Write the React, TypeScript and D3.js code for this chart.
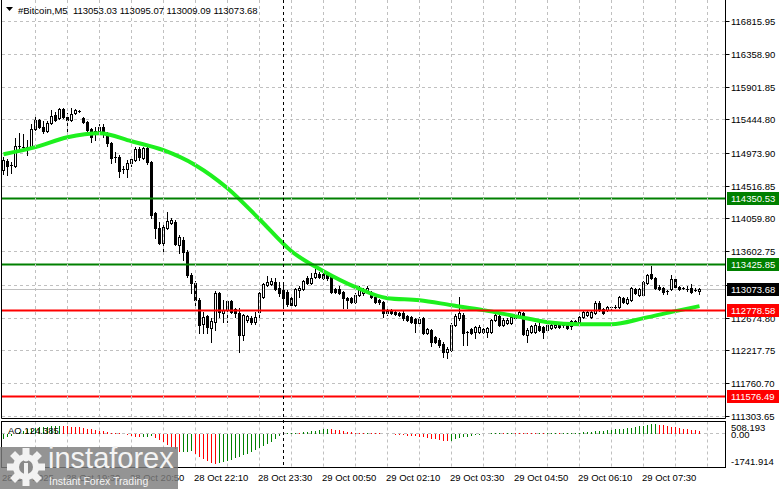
import { useEffect, useRef } from 'react'
import * as d3 from 'd3'

// 5-minute bars, 28 Oct 18:10 .. 29 Oct 08:40
const OPEN = [
  114735, 114860, 114804, 114790, 115069, 115055, 115055, 115041, 115305, 115431,
  115333, 115278, 115389, 115500, 115459, 115584, 115472, 115431, 115528, 115556,
  115459, 115403, 115305, 115236, 115278, 115333, 115236, 115111, 114916, 114916,
  114749, 114749, 114832, 114874, 115027, 114902, 115041, 114846, 114134, 113925,
  113715, 113925, 113994, 114008, 113687, 113757, 113590, 113269, 113157, 112920,
  112585, 112697, 112530, 112613, 113018, 112739, 112781, 112906, 112795, 112739,
  112432, 112641, 112669, 112613, 112753, 112962, 113130, 113144, 113171, 113088,
  113060, 113032, 112948, 112850, 113060, 113074, 113227, 113157, 113241, 113283,
  113283, 113269, 113241, 113074, 113074, 113032, 112948, 112948, 112892, 112990,
  113018, 113032, 113032, 112962, 112920, 112892, 112781, 112781, 112753, 112739,
  112739, 112697, 112683, 112655, 112599, 112669, 112460, 112502, 112404, 112362,
  112306, 112195, 112223, 112571, 112669, 112711, 112474, 112516, 112474, 112474,
  112516, 112474, 112474, 112641, 112697, 112571, 112599, 112599, 112669, 112697,
  112739, 112432, 112474, 112474, 112558, 112544, 112502, 112530, 112544, 112571,
  112571, 112571, 112558, 112627, 112613, 112683, 112711, 112683, 112739, 112878,
  112795, 112781, 112823, 112823, 112823, 112948, 112878, 112920, 113074, 112990,
  112990, 113157, 113283, 113227, 113102, 113088, 113046, 113074, 113213, 113102,
  113088, 113074, 113088, 113060, 113053.03,
]
const HIGH = [
  114916, 114888, 114846, 115180, 115250, 115236, 115152, 115375, 115514, 115445,
  115417, 115417, 115570, 115542, 115598, 115598, 115528, 115598, 115584, 115570,
  115472, 115417, 115319, 115333, 115375, 115375, 115264, 115125, 114985, 114943,
  114790, 114874, 114930, 115055, 115055, 115055, 115055, 114860, 114148, 114008,
  113980, 114148, 114064, 114036, 113827, 113799, 113618, 113297, 113185, 112948,
  112753, 112711, 112669, 113046, 113032, 112920, 112920, 112920, 112809, 112809,
  112725, 112711, 112697, 112753, 113032, 113157, 113255, 113227, 113227, 113171,
  113130, 113060, 112976, 113088, 113116, 113199, 113255, 113297, 113353, 113311,
  113297, 113283, 113255, 113088, 113116, 113046, 112962, 112962, 113018, 113116,
  113088, 113116, 113046, 112976, 112934, 112906, 112795, 112795, 112767, 112753,
  112767, 112711, 112697, 112669, 112683, 112683, 112530, 112516, 112418, 112390,
  112334, 112265, 112599, 112725, 112962, 112739, 112488, 112530, 112558, 112571,
  112530, 112544, 112655, 112739, 112711, 112669, 112669, 112697, 112739, 112781,
  112753, 112530, 112571, 112599, 112627, 112558, 112585, 112585, 112585, 112585,
  112585, 112585, 112641, 112641, 112697, 112767, 112767, 112767, 112906, 112906,
  112809, 112837, 112837, 112850, 112976, 112962, 112962, 113102, 113088, 113088,
  113185, 113283, 113395, 113241, 113130, 113102, 113060, 113269, 113227, 113116,
  113102, 113116, 113144, 113088, 113095.07,
]
const LOW = [
  114679, 114665, 114693, 114776, 115027, 115027, 114943, 115027, 115292, 115319,
  115250, 115264, 115375, 115417, 115445, 115459, 115236, 115417, 115514, 115542,
  115389, 115264, 115125, 115152, 115264, 115194, 115069, 114832, 114846, 114637,
  114693, 114637, 114790, 114860, 114874, 114888, 114818, 114064, 113785, 113701,
  113576, 113911, 113980, 113687, 113576, 113478, 113241, 113018, 112850, 112460,
  112460, 112460, 112334, 112502, 112683, 112613, 112613, 112739, 112683, 112195,
  112362, 112613, 112585, 112585, 112669, 112948, 113116, 113130, 113060, 112976,
  112850, 112837, 112837, 112837, 112962, 113060, 113144, 113144, 113227, 113227,
  113213, 113199, 113018, 113018, 113004, 112809, 112809, 112878, 112878, 112976,
  112990, 113018, 112948, 112878, 112864, 112683, 112711, 112725, 112711, 112697,
  112641, 112627, 112599, 112474, 112585, 112446, 112446, 112278, 112320, 112265,
  112125, 112111, 112209, 112558, 112641, 112292, 112292, 112446, 112390, 112460,
  112460, 112404, 112460, 112627, 112558, 112558, 112585, 112585, 112655, 112683,
  112432, 112334, 112460, 112460, 112488, 112390, 112488, 112516, 112530, 112530,
  112544, 112516, 112516, 112585, 112599, 112669, 112697, 112669, 112725, 112767,
  112725, 112767, 112795, 112809, 112809, 112878, 112864, 112906, 113004, 112976,
  112976, 113144, 113213, 113074, 113060, 113004, 113004, 113060, 113088, 113060,
  113074, 113046, 113018, 113046, 113009.09,
]
const CLOSE = [
  114874, 114790, 114797, 115069, 115055, 115048, 115041, 115305, 115431, 115333,
  115278, 115389, 115486, 115431, 115584, 115472, 115431, 115514, 115570, 115549,
  115403, 115292, 115194, 115278, 115333, 115250, 115111, 114902, 114902, 114721,
  114735, 114832, 114888, 115027, 114916, 115041, 114846, 114106, 113925, 113715,
  113939, 114022, 114036, 113701, 113799, 113590, 113269, 113157, 112920, 112571,
  112683, 112544, 112627, 113018, 112753, 112781, 112906, 112753, 112739, 112432,
  112711, 112697, 112613, 112683, 113018, 113144, 113171, 113185, 113074, 113018,
  112948, 112864, 112850, 113074, 113088, 113185, 113157, 113227, 113297, 113241,
  113227, 113227, 113032, 113032, 113018, 112948, 112927, 112892, 112990, 113088,
  113074, 113088, 112962, 112892, 112892, 112739, 112739, 112739, 112732, 112711,
  112669, 112641, 112613, 112599, 112655, 112460, 112516, 112334, 112334, 112292,
  112195, 112237, 112571, 112697, 112739, 112460, 112460, 112460, 112544, 112544,
  112474, 112530, 112641, 112711, 112571, 112641, 112641, 112683, 112711, 112753,
  112446, 112502, 112558, 112571, 112502, 112474, 112571, 112571, 112571, 112544,
  112564, 112530, 112627, 112599, 112683, 112753, 112753, 112753, 112878, 112781,
  112739, 112823, 112816, 112830, 112962, 112892, 112934, 113088, 113018, 113074,
  113171, 113269, 113227, 113088, 113074, 113032, 113039, 113213, 113102, 113074,
  113081, 113067, 113032, 113053, 113073.68,
]

// moving average, read at every 8th bar
const MA_BARS = [0, 8, 16, 24, 32, 40, 48, 56, 64, 72, 80, 88, 96, 104, 112, 120, 128, 136, 144, 152, 160, 168, 174]
const MA_VALUES = [
  114957, 115055, 115194, 115250, 115138, 115013, 114804, 114482, 114050, 113603, 113324, 113102,
  112948, 112920, 112850, 112781, 112697, 112613, 112585, 112585, 112669, 112767, 112837,
]

// Awesome Oscillator
const AO = [
  -330, -240, -140, -40, 60, 140, 200, 250, 300, 330,
  350, 365, 380, 390, 400, 392, 380, 365, 345, 320,
  290, 250, 210, 170, 130, 95, 60, 30, 15, -20,
  -70, -120, -170, -210, -240, -225, -205, -190, -280, -400,
  -530, -650, -760, -900, -1080, -1060, -1040, -1020, -1180, -1350,
  -1480, -1590, -1680, -1741.914, -1700, -1640, -1580, -1500, -1420, -1340,
  -1260, -1170, -1070, -970, -860, -740, -610, -480, -340, -180,
  -30, -15, 10, 20, 15, 40, 70, 100, 140, 180,
  210, 225, 205, 180, 150, 115, 80, 45, 20, 10,
  5, 12, 3, -5, -15, -30, -60, -75, -90, -110,
  -130, -150, -170, -190, -210, -240, -270, -310, -350, -400,
  -450, -460, -420, -360, -300, -250, -200, -155, -115, -85,
  -55, -35, -20, 10, 15, 12, 18, 25, 20, 15,
  8, -5, -10, -12, -8, -15, -10, 5, 8, 5,
  10, 15, 20, 25, 30, 35, 55, 75, 100, 120,
  140, 160, 180, 200, 225, 250, 280, 310, 345, 380,
  420, 460, 490, 508.193, 480, 440, 400, 360, 320, 280,
  240, 200, 170, 145, 124.385,
]

const PRICE_TICKS = [
  '116815.95', '116358.90', '115901.85', '115444.80', '114973.90', '114516.85', '114059.80',
  '113602.75', '113131.85', '112674.80', '112217.75', '111760.70', '111303.65',
]
const TIME_TICK_BARS = [0, 16, 32, 48, 64, 80, 96, 112, 128, 144, 160]
const TIME_TICK_LABELS = [
  '28 Oct 2025', '28 Oct 19:30', '28 Oct 20:50', '28 Oct 22:10', '28 Oct 23:30', '29 Oct 00:50',
  '29 Oct 02:10', '29 Oct 03:30', '29 Oct 04:50', '29 Oct 06:10', '29 Oct 07:30',
]
const LEVELS = [114350.53, 113425.85, 112778.58, 111576.49]
const LEVEL_KINDS = ['resist', 'resist', 'support', 'support']
const DAY_BREAK_BAR = 70
const AO_MAX = 508.193
const AO_MIN = -1741.914
const HEADER = '#Bitcoin,M5  113053.03 113095.07 113009.09 113073.68'

export default function App() {
  const svgRef = useRef<SVGSVGElement>(null)

  useEffect(() => {
    if (!svgRef.current) return
    const svg = d3.select(svgRef.current)
    svg.selectAll('*').remove()

    const font = 'Liberation Sans, Arial, sans-serif'
    const left = 1.5
    const right = 725.5
    const mainBottom = 418.5
    const aoTop = 421.5
    const aoBottom = 467.5
    const gridColor = '#c0c0c0'
    const green = '#008000'
    const red = '#ff0000'
    const lastClose = CLOSE[CLOSE.length - 1]

    const x = d3.scaleLinear().domain([0, 174]).range([3.5, 699.5])
    const y = d3.scaleLinear().domain([111303.65, 116815.95]).range([416, 21])
    const yAo = d3.scaleLinear().domain([AO_MIN, AO_MAX]).range([464, 424])

    svg.append('rect').attr('width', 781).attr('height', 489).attr('fill', '#ffffff')

    const defs = svg.append('defs')
    defs.append('clipPath').attr('id', 'mainClip')
      .append('rect').attr('x', 2).attr('y', 0).attr('width', 723).attr('height', 418)

    const main = svg.append('g').attr('clip-path', 'url(#mainClip)')

    // grid
    PRICE_TICKS.forEach(t => {
      const yy = Math.round(y(+t)) + 0.5
      main.append('line')
        .attr('x1', 2).attr('x2', 725).attr('y1', yy).attr('y2', yy)
        .attr('stroke', gridColor).attr('stroke-dasharray', '3 3')
    })
    const gridBars = d3.range(8, 177, 8)
    gridBars.forEach(b => {
      svg.append('line')
        .attr('x1', x(b)).attr('x2', x(b)).attr('y1', 0).attr('y2', mainBottom)
        .attr('stroke', gridColor).attr('stroke-dasharray', '3 3')
      svg.append('line')
        .attr('x1', x(b)).attr('x2', x(b)).attr('y1', aoTop).attr('y2', aoBottom)
        .attr('stroke', gridColor).attr('stroke-dasharray', '3 3')
    })

    // day separator
    svg.append('line')
      .attr('x1', x(DAY_BREAK_BAR)).attr('x2', x(DAY_BREAK_BAR)).attr('y1', 0).attr('y2', aoBottom)
      .attr('stroke', '#000').attr('stroke-dasharray', '3 3')

    // current price line
    const py = Math.round(y(lastClose)) + 0.5
    main.append('line')
      .attr('x1', 2).attr('x2', 725).attr('y1', py).attr('y2', py)
      .attr('stroke', '#c0c0c0')

    // candles
    const candles = main.append('g').attr('shape-rendering', 'crispEdges')
    OPEN.forEach((o, i) => {
      const c = CLOSE[i]
      const cx = x(i)
      candles.append('line')
        .attr('x1', cx).attr('x2', cx)
        .attr('y1', Math.round(y(HIGH[i]))).attr('y2', Math.round(y(LOW[i])) + 1)
        .attr('stroke', '#000')
      const top = Math.round(y(Math.max(o, c)))
      const bot = Math.round(y(Math.min(o, c)))
      const h = bot - top
      if (h < 2) {
        candles.append('rect')
          .attr('x', cx - 1.5).attr('y', top).attr('width', 3).attr('height', 1)
          .attr('fill', '#000')
      } else if (c > o) {
        candles.append('rect')
          .attr('x', cx - 1).attr('y', top + 0.5).attr('width', 2).attr('height', h)
          .attr('fill', '#fff').attr('stroke', '#000')
      } else {
        candles.append('rect')
          .attr('x', cx - 1.5).attr('y', top).attr('width', 3).attr('height', h + 1)
          .attr('fill', '#000')
      }
    })

    // moving average
    const maLine = d3.line<number>()
      .x((_, i) => x(MA_BARS[i]))
      .y(d => y(d))
      .curve(d3.curveMonotoneX)
    main.append('path')
      .datum(MA_VALUES)
      .attr('fill', 'none')
      .attr('stroke', '#1ef01e')
      .attr('stroke-width', 4)
      .attr('d', maLine)

    // levels
    LEVELS.forEach((v, i) => {
      const yy = Math.round(y(v)) + 0.5
      main.append('line')
        .attr('x1', 2).attr('x2', 725).attr('y1', yy).attr('y2', yy)
        .attr('stroke', LEVEL_KINDS[i] === 'resist' ? green : red)
        .attr('stroke-width', 2)
    })

    // frames
    svg.append('path')
      .attr('d', `M${left},0 V${mainBottom} H${right} V0`)
      .attr('fill', 'none').attr('stroke', '#000')
    svg.append('rect')
      .attr('x', left).attr('y', aoTop).attr('width', right - left).attr('height', aoBottom - aoTop)
      .attr('fill', 'none').attr('stroke', '#000')

    // price axis
    PRICE_TICKS.forEach(t => {
      const yy = Math.round(y(+t)) + 0.5
      svg.append('line')
        .attr('x1', right).attr('x2', right + 4).attr('y1', yy).attr('y2', yy)
        .attr('stroke', '#000')
      svg.append('text')
        .attr('x', 731).attr('y', yy).attr('dy', '0.35em')
        .attr('fill', '#000')
        .style('font-family', font).style('font-size', '9.5px')
        .text(t)
    })

    const tags = [
      ...LEVELS.map((v, i) => ({ v, fill: LEVEL_KINDS[i] === 'resist' ? green : red })),
      { v: lastClose, fill: '#000' },
    ]
    tags.forEach(tg => {
      const yy = Math.round(y(tg.v)) + 0.5
      svg.append('rect')
        .attr('x', 727).attr('y', yy - 6.5).attr('width', 52).attr('height', 13)
        .attr('fill', tg.fill)
      svg.append('text')
        .attr('x', 731).attr('y', yy).attr('dy', '0.35em')
        .attr('fill', '#fff')
        .style('font-family', font).style('font-size', '9.5px')
        .text(tg.v.toFixed(2))
    })

    // AO panel
    const zeroY = Math.round(yAo(0)) + 0.5
    svg.append('line')
      .attr('x1', 2).attr('x2', 725).attr('y1', zeroY).attr('y2', zeroY)
      .attr('stroke', gridColor).attr('stroke-dasharray', '3 3')
    const aoG = svg.append('g').attr('shape-rendering', 'crispEdges')
    AO.forEach((v, i) => {
      const up = i === 0 ? true : v > AO[i - 1]
      aoG.append('line')
        .attr('x1', x(i)).attr('x2', x(i))
        .attr('y1', zeroY).attr('y2', yAo(v))
        .attr('stroke', up ? green : red)
    })
    svg.append('text')
      .attr('x', 8).attr('y', 434)
      .attr('fill', '#000')
      .style('font-family', font).style('font-size', '9.5px')
      .text(`AO ${AO[AO.length - 1].toFixed(3)}`)

    const aoLabels = [
      { v: AO_MAX, t: AO_MAX.toFixed(3), dy: 4 },
      { v: 0, t: '0.00', dy: 1.5 },
      { v: AO_MIN, t: AO_MIN.toFixed(3), dy: -2.5 },
    ]
    aoLabels.forEach(l => {
      svg.append('text')
        .attr('x', 731).attr('y', yAo(l.v) + l.dy).attr('dy', '0.35em')
        .attr('fill', '#000')
        .style('font-family', font).style('font-size', '9.5px')
        .text(l.t)
    })

    // time axis
    TIME_TICK_BARS.forEach((b, i) => {
      svg.append('text')
        .attr('x', x(b) - 1.5).attr('y', 481)
        .attr('fill', '#000')
        .style('font-family', font).style('font-size', '9.5px')
        .text(TIME_TICK_LABELS[i])
    })

    // header
    svg.append('path').attr('d', 'M6,7 L13,7 L9.5,11 Z').attr('fill', '#000')
    svg.append('text')
      .attr('x', 18).attr('y', 14)
      .attr('fill', '#000')
      .style('font-family', font).style('font-size', '9.5px')
      .style('white-space', 'pre')
      .text(HEADER)

    // watermark
    const wm = svg.append('g')
    wm.append('rect')
      .attr('x', 0).attr('y', 447).attr('width', 178).attr('height', 42)
      .attr('fill', '#7d7d7d').attr('opacity', 0.82)
    const gear = wm.append('g').attr('transform', 'translate(26,467)').attr('fill', '#f2f2f2')
    d3.range(8).forEach(k => {
      gear.append('rect')
        .attr('x', -3.5).attr('y', -19).attr('width', 7).attr('height', 8)
        .attr('transform', `rotate(${k * 45})`)
    })
    gear.append('circle').attr('r', 13)
    gear.append('circle').attr('r', 7).attr('fill', '#8a8a8a')
    gear.append('rect').attr('x', -2).attr('y', -4).attr('width', 4).attr('height', 14).attr('fill', '#f2f2f2')
    gear.append('circle').attr('cy', -8).attr('r', 2.5).attr('fill', '#f2f2f2')
    wm.append('text')
      .attr('x', 48).attr('y', 468)
      .attr('fill', '#f4f4f4')
      .style('font-family', font).style('font-size', '29px')
      .text('instaforex')
    wm.append('text')
      .attr('x', 49).attr('y', 485)
      .attr('fill', '#f4f4f4')
      .style('font-family', font).style('font-size', '10.5px')
      .text('Instant Forex Trading')
  }, [])

  return (
    <svg
      ref={svgRef}
      width={781}
      height={489}
      style={{ position: 'absolute', left: 0, top: 0, display: 'block' }}
    />
  )
}
